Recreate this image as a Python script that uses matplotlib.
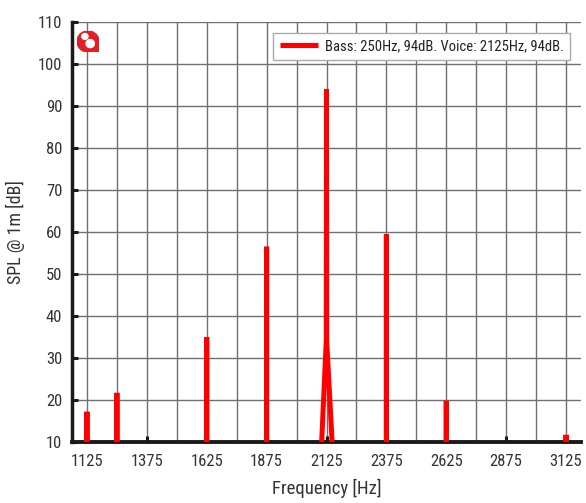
import matplotlib
matplotlib.use("Agg")
import matplotlib.pyplot as plt
from matplotlib.patches import Circle, Rectangle
from matplotlib.ticker import MultipleLocator
from matplotlib import font_manager as fm

# ---- data ----
spec_freq = [1125, 1125, 1125,
             1250, 1250, 1250,
             1625, 1625, 1625,
             1875, 1875, 1875,
             2100, 2124, 2125, 2126, 2154,
             2375, 2375, 2375,
             2625, 2625, 2625,
             3125, 3125, 3125]
spec_spl = [-50, 17.2, -50,
            -50, 21.7, -50,
            -50, 35.0, -50,
            -50, 56.5, -50,
            4, 34, 94.0, 34, 4,
            -50, 59.5, -50,
            -50, 19.8, -50,
            -50, 11.7, -50]
legend_label = "Bass: 250Hz, 94dB. Voice: 2125Hz, 94dB."
x_ticks = [1125, 1375, 1625, 1875, 2125, 2375, 2625, 2875, 3125]
y_ticks = list(range(10, 111, 10))

names = {f.name for f in fm.fontManager.ttflist}
cands = [n for n in ['Roboto Condensed', 'Roboto', 'DejaVu Sans'] if n in names]
plt.rcParams['font.family'] = cands

fig = plt.figure(figsize=(5.86, 5.03), dpi=100)
ax = fig.add_axes([72/586, 1-442/503, 509/586, 420/503])

ax.plot(spec_freq, spec_spl, color='#ff0000', lw=3.6,
        solid_joinstyle='bevel', solid_capstyle='butt', label=legend_label, zorder=3)

ax.set_xlim(1062.5, 3187.5)
ax.set_ylim(10, 110)
ax.set_xticks(x_ticks)
ax.xaxis.set_minor_locator(MultipleLocator(125))
ax.set_yticks(y_ticks)

ax.grid(True, which='both', axis='x', color='#707070', lw=1.0)
ax.grid(True, which='major', axis='y', color='#707070', lw=1.0)
ax.set_axisbelow(True)

for s in ['top', 'right']:
    ax.spines[s].set_visible(False)
ax.spines['left'].set_linewidth(2.5)
ax.spines['bottom'].set_linewidth(2.8)
ax.spines['left'].set_color('#1a1a1a')
ax.spines['bottom'].set_color('#1a1a1a')

ax.tick_params(axis='both', which='major', direction='in', length=4, width=2.2,
               color='#1a1a1a', labelsize=12, labelcolor='#333333')
ax.tick_params(axis='y', pad=7)
ax.tick_params(axis='x', pad=9)
ax.tick_params(axis='x', which='minor', length=0)

ax.set_xlabel('Frequency [Hz]', fontsize=13.5, color='#333333', labelpad=7)
ax.set_ylabel('SPL @ 1m [dB]', fontsize=13, color='#333333', labelpad=9)

leg = ax.legend(loc='upper right', bbox_to_anchor=(0.979, 0.975), borderaxespad=0,
                fancybox=False, framealpha=1, edgecolor='#aaaaaa', fontsize=10.5,
                handlelength=2.6, handletextpad=0.5, borderpad=0.45)
leg.get_frame().set_linewidth(1.0)
for t in leg.get_texts():
    t.set_color('#222222')

# logo
lax = fig.add_axes([77/586, 1-52/503, 22/586, 21/503])
lax.set_xlim(0, 1)
lax.set_ylim(0, 1)
lax.axis('off')
red = '#e21f26'
lax.add_patch(Circle((0.5, 0.5), 0.5, color=red))
lax.add_patch(Rectangle((0.5, 0.0), 0.5, 0.5, color=red))
lax.add_patch(Circle((0.60, 0.40), 0.19, color='white'))
lax.add_patch(Circle((0.36, 0.74), 0.14, color='white'))

fig.savefig('out.png', dpi=100)
